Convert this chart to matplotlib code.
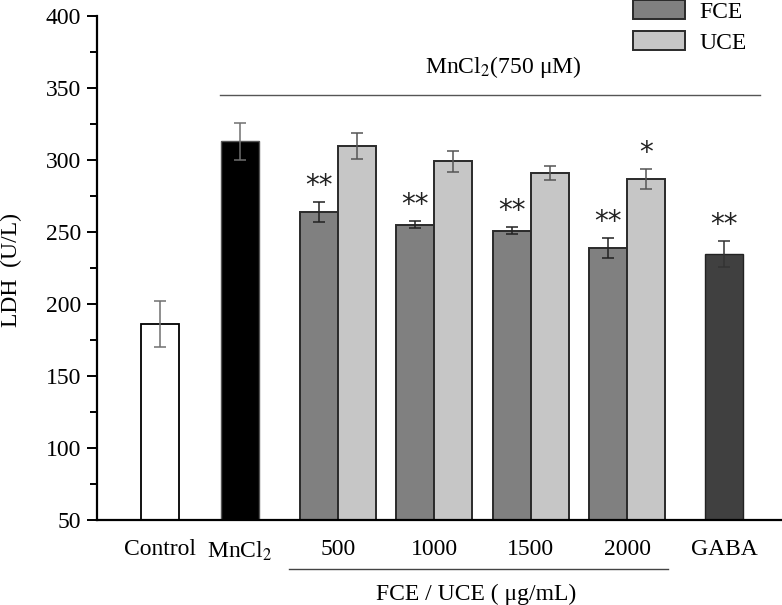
import numpy as np
import matplotlib
matplotlib.use("Agg")
import matplotlib.pyplot as plt
from matplotlib.patches import Patch
from matplotlib.ticker import MultipleLocator

plt.rcParams['font.family'] = ['Liberation Serif', 'DejaVu Serif']
plt.rcParams['mathtext.fontset'] = 'stix'

# data
doses = ["500", "1000", "1500", "2000"]
control_mean, control_err = 186, 16
mncl2_mean, mncl2_err = 313, 13
fce_mean = [264, 255, 251, 239]
fce_err = [7, 2.5, 2.5, 7]
uce_mean = [310, 299, 291, 287]
uce_err = [9, 7, 5, 7]
gaba_mean, gaba_err = 235, 9
fce_stars = ["**", "**", "**", "**"]
uce_stars = ["", "", "", "*"]
gaba_stars = "**"

# layout (x in units of one bar width)
w = 1.0
x_control = 1.66
x_mncl2 = 3.76
x_groups = np.array([6.34, 8.87, 11.42, 13.95])
x_gaba = 16.5

fig = plt.figure(figsize=(7.82, 6.05), dpi=100)
ax = fig.add_axes([97 / 782, 85 / 605, 685 / 782, 504 / 605])

fs = 17

# bars
ax.bar(x_control, control_mean - 50, w, bottom=50, color='white', edgecolor='black', linewidth=1.3)
ax.bar(x_mncl2, mncl2_mean - 50, w, bottom=50, color='black', edgecolor='#555555', linewidth=1.0)
ax.bar(x_groups - w / 2, np.array(fce_mean) - 50, w, bottom=50, color='#808080', edgecolor='#2a2a2a', linewidth=1.4, label='FCE')
ax.bar(x_groups + w / 2, np.array(uce_mean) - 50, w, bottom=50, color='#c6c6c6', edgecolor='#2a2a2a', linewidth=1.4, label='UCE')
ax.bar(x_gaba, gaba_mean - 50, w, bottom=50, color='#404040', edgecolor='#222222', linewidth=1.0)

# error bars
ekw = dict(fmt='none', capsize=4, elinewidth=1.1, capthick=1.1)
ax.errorbar(x_control, control_mean, yerr=control_err, ecolor='#707070', **ekw)
ax.errorbar(x_mncl2, mncl2_mean, yerr=mncl2_err, ecolor='#707070', **ekw)
ax.errorbar(x_groups - w / 2, fce_mean, yerr=fce_err, ecolor='#222222', **ekw)
ax.errorbar(x_groups + w / 2, uce_mean, yerr=uce_err, ecolor='#555555', **ekw)
ax.errorbar(x_gaba, gaba_mean, yerr=gaba_err, ecolor='#333333', **ekw)

# significance stars
off = 11
skw = dict(ha='center', va='center', fontsize=20, family='DejaVu Sans', color='#222222')
for i in range(len(doses)):
    if fce_stars[i]:
        ax.text(x_groups[i] - w / 2, fce_mean[i] + fce_err[i] + off, fce_stars[i], **skw)
    if uce_stars[i]:
        ax.text(x_groups[i] + w / 2, uce_mean[i] + uce_err[i] + off, uce_stars[i], **skw)
ax.text(x_gaba, gaba_mean + gaba_err + off, gaba_stars, **skw)

# MnCl2 bracket line and label
ax.plot([3.24, 17.45], [345.2, 345.2], color='#555555', linewidth=1.0)
ax.text(10.7, 360.5, 'MnCl$_2$(750 \u03bcM)', ha='center', va='baseline', fontsize=fs)

# bottom group line and label
trans = ax.get_xaxis_transform()
ax.plot([5.05, 15.03], [-0.097, -0.097], color='#444444', linewidth=1.0, transform=trans, clip_on=False)
ax.text(9.97, -0.159, 'FCE / UCE ( \u03bcg/mL)', ha='center', va='baseline', fontsize=fs, transform=trans)

# axes
ax.set_xlim(0, 685 / 38)
ax.set_ylim(50, 400)
ax.yaxis.set_major_locator(MultipleLocator(50))
ax.yaxis.set_minor_locator(MultipleLocator(25))
ax.tick_params(axis='y', which='major', direction='out', length=7.5, width=1.4, labelsize=fs, pad=4)
ax.tick_params(axis='y', which='minor', direction='out', length=5, width=1.4)
ticks = [x_control, x_mncl2] + list(x_groups) + [x_gaba]
labels = ['Control', 'MnCl$_2$'] + doses + ['GABA']
ax.set_xticks(ticks)
ax.set_xticklabels(labels, fontsize=fs)
ax.tick_params(axis='x', length=0, pad=14)

for s in ['top', 'right']:
    ax.spines[s].set_visible(False)
ax.spines['left'].set_linewidth(1.6)
ax.spines['bottom'].set_linewidth(1.6)

fig.text(11 / 782, 1 - 270 / 605, 'LDH  (U/L)', rotation=90, ha='center', va='center', fontsize=fs)

# legend
handles = [Patch(facecolor='#808080', edgecolor='#2a2a2a', linewidth=1.4),
           Patch(facecolor='#c6c6c6', edgecolor='#2a2a2a', linewidth=1.4)]
fig.legend(handles, ['FCE', 'UCE'], loc='upper left', bbox_to_anchor=(633 / 782, 1.0),
           frameon=False, fontsize=fs, handlelength=2.2, handleheight=0.85,
           labelspacing=0.36, borderpad=0, borderaxespad=0, handletextpad=0.6)

fig.savefig('out.png', dpi=100)
